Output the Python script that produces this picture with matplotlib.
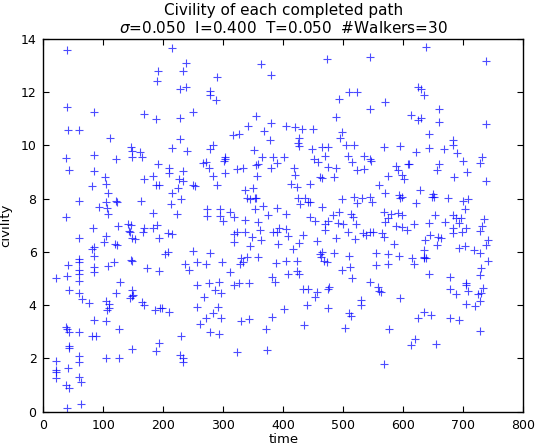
import matplotlib
matplotlib.use('Agg')
import matplotlib.pyplot as plt

time = [39,191,189,39,85,167,187,41,60,111,146,148,161,148,164,38,84,121,
215,237,232,362,379,289,228,237,278,278,287,250,227,354,341,379,368,404,316,326,377,228,283,278,215,239,351,303,365,383,401,
473,545,509,522,492,569,545,487,419,431,450,497,494,426,424,426,448,465,474,505,518,567,595,451,469,508,534,545,
638,737,624,630,635,660,613,624,629,659,737,642,682,682,621,642,667,689,731,
43,84,191,103,167,183,209,81,105,188,193,107,60,105,121,122,163,93,106,107,37,183,125,83,141,146,142,145,168,166,183,189,208,60,104,101,147,153,193,120,122,84,81,85,203,207,59,60,117,146,148,85,107,41,60,60,84,172,192,39,21,60,128,
43,60,64,76,121,148,144,147,149,104,109,106,110,164,167,186,195,198,209,38,39,42,60,85,105,81,88,126,42,43,148,193,188,60,59,105,126,21,21,21,21,41,59,63,38,43,40,63,
210,233,266,271,276,303,301,282,302,322,332,354,358,390,380,356,226,232,225,250,253,290,214,229,336,349,339,344,353,355,213,222,272,273,294,294,300,311,317,336,352,366,389,375,404,357,215,317,322,336,348,361,383,389,393,408,317,362,391,344,249,278,330,340,357,236,256,271,297,328,333,243,311,388,404,408,381,386,276,292,326,342,256,
318,268,286,296,256,291,282,271,296,261,278,292,330,342,381,401,371,229,228,233,233,322,373,
458,515,546,418,420,474,487,485,461,464,523,534,587,591,608,575,598,601,412,422,444,560,570,592,597,594,425,436,441,444,427,498,518,531,544,523,547,465,444,452,483,492,513,516,474,470,491,499,521,567,579,574,591,597,570,405,469,508,533,537,544,549,565,568,587,597,606,433,426,456,487,520,584,416,461,464,462,472,468,484,509,554,575,593,423,511,555,575,497,423,426,515,544,
610,660,656,699,728,706,684,737,627,649,647,651,675,699,707,621,702,652,682,688,696,693,735,617,642,670,731,705,682,682,697,728,645,657,663,636,741,738,656,692,702,634,634,638,635,718,727,614,618,741,730,728,642,677,704,
433,441,456,452,474,476,557,559,563,440,474,529,529,594,509,512,434,503,576,568,612,620,624,635,646,655,677,687,677,692,704,708,704,720,725,730,732,728,727]

civility = [13.59,12.81,12.42,11.46,11.27,11.17,10.98,10.58,10.58,10.27,9.95,9.8,9.77,9.58,9.58,9.52,9.64,9.48,
13.65,13.09,12.81,13.05,12.65,12.58,12.13,12.18,12.05,11.9,11.71,11.25,11.02,11.11,10.74,10.86,10.56,10.73,10.38,10.43,10.21,10.23,10.02,9.86,9.89,9.8,9.83,9.56,9.58,9.56,9.58,
13.24,13.34,12.0,12.02,11.73,11.65,11.36,11.06,10.71,10.61,10.62,10.5,10.27,10.27,10.08,9.98,9.87,9.93,9.93,10.02,10.02,9.95,9.98,9.49,9.6,9.6,9.6,9.49,
13.71,13.17,12.21,12.11,11.9,11.36,11.15,10.96,11.02,10.89,10.8,10.42,10.21,10.02,9.74,9.9,9.86,9.71,9.58,
9.08,9.04,9.3,8.83,8.73,8.87,9.14,8.48,8.57,8.52,8.52,8.2,7.93,7.89,7.92,7.89,7.92,7.68,7.67,7.41,7.32,7.45,6.98,6.91,7.05,7.01,6.8,6.76,6.91,6.76,6.91,7.01,6.72,6.53,6.61,6.36,6.53,6.48,6.51,6.29,6.26,6.2,6.11,5.86,5.91,6.01,5.74,5.61,5.63,5.7,5.66,5.45,5.47,5.51,5.32,5.17,5.26,5.39,5.29,5.11,5.01,4.91,4.86,
4.57,4.47,4.22,4.1,4.47,4.57,4.26,4.35,4.38,4.16,4.05,3.82,3.88,4.13,4.01,3.82,3.88,3.88,3.76,3.19,3.1,3.0,2.98,3.44,3.41,2.86,2.86,3.1,2.47,2.38,2.36,2.57,2.28,2.09,1.88,2.0,2.0,1.9,1.57,1.48,1.28,1.63,1.31,1.1,1.0,0.9,0.13,0.29,
8.98,9.05,9.33,9.39,9.14,9.49,9.43,8.87,8.95,9.12,9.14,9.27,9.3,9.33,9.14,8.87,8.74,8.67,8.39,8.52,8.48,8.52,8.2,7.98,8.33,8.39,8.02,7.98,8.04,8.02,7.82,7.41,7.6,7.35,7.6,7.36,7.18,7.49,7.33,7.2,7.6,7.73,7.66,7.39,7.43,7.12,6.68,6.68,6.74,6.76,6.55,6.83,6.76,6.76,6.89,6.6,6.37,6.45,6.31,6.22,6.04,5.97,5.76,5.8,5.8,5.55,5.61,5.54,5.61,5.54,5.61,5.32,5.26,5.57,5.66,5.17,5.07,4.88,4.85,4.88,4.85,4.85,4.75,
4.76,4.32,4.57,4.47,3.92,3.94,3.7,3.51,3.53,3.28,2.98,2.92,3.42,3.47,3.57,3.87,3.09,2.86,2.13,2.0,1.88,2.25,2.32,
9.39,9.39,9.42,9.17,8.89,9.18,9.14,8.83,8.83,8.79,9.08,9.1,9.24,9.08,9.29,8.87,8.89,8.74,8.54,8.44,8.54,8.52,8.2,8.14,8.08,8.04,8.04,8.04,7.89,7.87,7.79,7.99,8.07,8.02,8.08,7.83,7.87,7.68,7.3,7.18,7.39,7.49,7.42,7.33,7.16,7.05,7.1,7.05,7.05,7.49,7.43,7.26,7.45,7.39,7.14,6.86,6.83,6.74,6.7,6.64,6.74,6.76,6.72,6.57,6.99,6.95,6.83,6.64,6.33,6.41,6.51,6.48,6.3,6.11,5.91,5.99,5.82,5.63,5.66,5.95,5.85,5.95,5.91,5.85,5.66,5.45,5.51,5.55,5.32,5.3,5.17,5.03,4.88,
9.29,9.29,9.08,9.42,9.33,9.0,8.83,8.67,8.33,8.17,8.08,8.08,8.04,7.93,7.98,7.83,7.61,7.39,7.39,7.29,7.29,7.08,7.23,7.05,7.1,7.14,6.98,6.91,6.89,6.7,6.74,6.79,6.64,6.57,6.51,6.45,6.45,6.26,6.26,6.14,6.22,6.07,5.82,5.76,5.76,6.07,5.95,5.79,5.54,5.66,5.39,5.14,5.17,5.05,4.82,
4.6,4.61,4.51,4.32,4.6,4.67,4.67,4.55,4.51,4.01,3.91,4.2,4.01,4.26,3.7,3.59,3.26,3.13,3.09,1.78,2.5,2.72,3.51,3.73,3.63,2.54,4.61,4.41,3.53,3.44,4.76,4.55,4.03,3.98,4.41,4.45,4.66,4.16,3.03]

x_ticks = [0, 100, 200, 300, 400, 500, 600, 700, 800]
y_ticks = [0, 2, 4, 6, 8, 10, 12, 14]

fig = plt.figure(figsize=(5.39, 4.48), dpi=100)
ax = fig.add_axes([0.0807, 0.081, 0.8905, 0.832])
ax.plot(time, civility, linestyle='none', marker='+', color='b',
        ms=5.5, mew=0.8, alpha=0.7)
ax.set_xlim(0, 800)
ax.set_ylim(0, 14)
ax.set_xticks(x_ticks)
ax.set_yticks(y_ticks)
ax.tick_params(direction='in', top=True, right=True, labelsize=9,
               length=4, width=0.8, pad=5)
for s in ax.spines.values():
    s.set_linewidth(1.0)
ax.set_xlabel('time', fontsize=9.5, labelpad=1)
ax.set_ylabel('civility', fontsize=9.5, labelpad=6)
ax.set_title('Civility of each completed path\n'
             r'$\sigma$=0.050  I=0.400  T=0.050  #Walkers=30', fontsize=11,
             pad=4, linespacing=1.15)
fig.savefig('out.png', dpi=100)
